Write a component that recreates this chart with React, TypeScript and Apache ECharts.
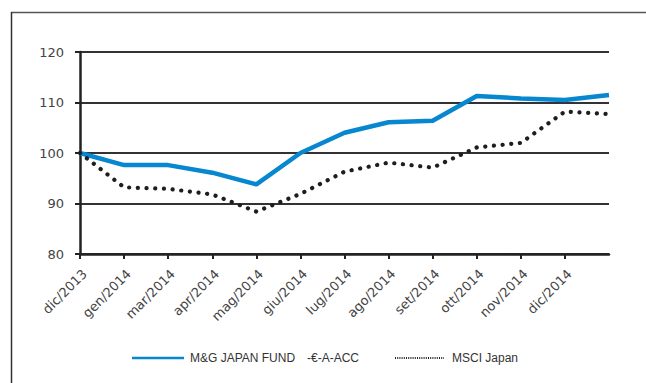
import React, { useEffect, useRef } from "react";
import * as echarts from "echarts";

const categories = [
  "dic/2013", "gen/2014", "mar/2014", "apr/2014", "mag/2014", "giu/2014",
  "lug/2014", "ago/2014", "set/2014", "ott/2014", "nov/2014", "dic/2014", "",
];
const fundName = "M&G JAPAN FUND";
const fundSuffix = "-€-A-ACC";
const indexName = "MSCI Japan";
const fundValues = [100, 97.6, 97.6, 96.1, 93.8, 100, 104.0, 106.1, 106.4, 111.3, 110.8, 110.5, 111.5];
const indexValues = [100, 93.2, 92.9, 91.8, 88.4, 91.9, 96.3, 98.1, 97.1, 101.1, 102.0, 108.2, 107.7];
const yTicks = { min: 80, max: 120, interval: 10 };

export default function App() {
  const ref = useRef<HTMLDivElement>(null);
  useEffect(() => {
    if (!ref.current) return;
    const chart = echarts.init(ref.current, undefined, { renderer: "svg" });
    const font = "Liberation Sans";
    const axisFont = "DejaVu Sans";
    chart.setOption({
      animation: false,
      backgroundColor: "#ffffff",
      grid: { left: 80, right: 37, top: 52, bottom: 129 },
      xAxis: {
        type: "category",
        data: categories,
        boundaryGap: false,
        axisLine: { show: true, lineStyle: { color: "#222", width: 2.5 } },
        axisTick: { show: true, alignWithLabel: true, length: 5, lineStyle: { color: "#222", width: 2 },
          interval: (i: number) => i < categories.length - 1 },
        axisLabel: { rotate: 45, margin: 13, color: "#444", fontFamily: axisFont, fontSize: 13, interval: 0,
          verticalAlign: "top" },
        splitLine: { show: false },
      },
      yAxis: {
        type: "value",
        min: yTicks.min,
        max: yTicks.max,
        interval: yTicks.interval,
        axisLine: { show: true, lineStyle: { color: "#222", width: 2.5 } },
        axisTick: { show: true, length: 5, lineStyle: { color: "#222", width: 2 } },
        axisLabel: { margin: 16, color: "#444", fontFamily: axisFont, fontSize: 13 },
        splitLine: { show: true, lineStyle: { color: "#333", width: 2 } },
      },
      series: [
        {
          name: fundName + " " + fundSuffix,
          type: "line",
          data: fundValues,
          symbol: "none",
          z: 3,
          lineStyle: { color: "#0787d0", width: 4.5, join: "round" },
        },
        {
          name: indexName,
          type: "line",
          data: indexValues,
          symbol: "none",
          z: 4,
          lineStyle: { color: "#1e1e1e", width: 4.2, type: [0.1, 8.6], cap: "round", join: "round" },
        },
      ],
      graphic: [
        { type: "line", shape: { x1: 11, y1: 12.5, x2: 646, y2: 12.5 }, style: { stroke: "#555", lineWidth: 1.5 } },
        { type: "line", shape: { x1: 11.5, y1: 12, x2: 11.5, y2: 383 }, style: { stroke: "#333", lineWidth: 1.5 } },
        { type: "line", shape: { x1: 132, y1: 358, x2: 184, y2: 358 }, style: { stroke: "#0787d0", lineWidth: 2.5 } },
        { type: "text", x: 190, y: 358, style: { text: fundName, fill: "#333", font: `12px "${font}"`, textVerticalAlign: "middle" } },
        { type: "text", x: 307, y: 358, style: { text: fundSuffix, fill: "#333", font: `12px "${font}"`, textVerticalAlign: "middle" } },
        { type: "line", shape: { x1: 395, y1: 358, x2: 444, y2: 358 }, style: { stroke: "#222", lineWidth: 2, lineDash: [1, 1.2] } },
        { type: "text", x: 452, y: 358, style: { text: indexName, fill: "#333", font: `12px "${font}"`, textVerticalAlign: "middle" } },
      ],
    });
    return () => chart.dispose();
  }, []);
  return <div ref={ref} style={{ width: 646, height: 383, position: "absolute", left: 0, top: 0 }} />;
}
